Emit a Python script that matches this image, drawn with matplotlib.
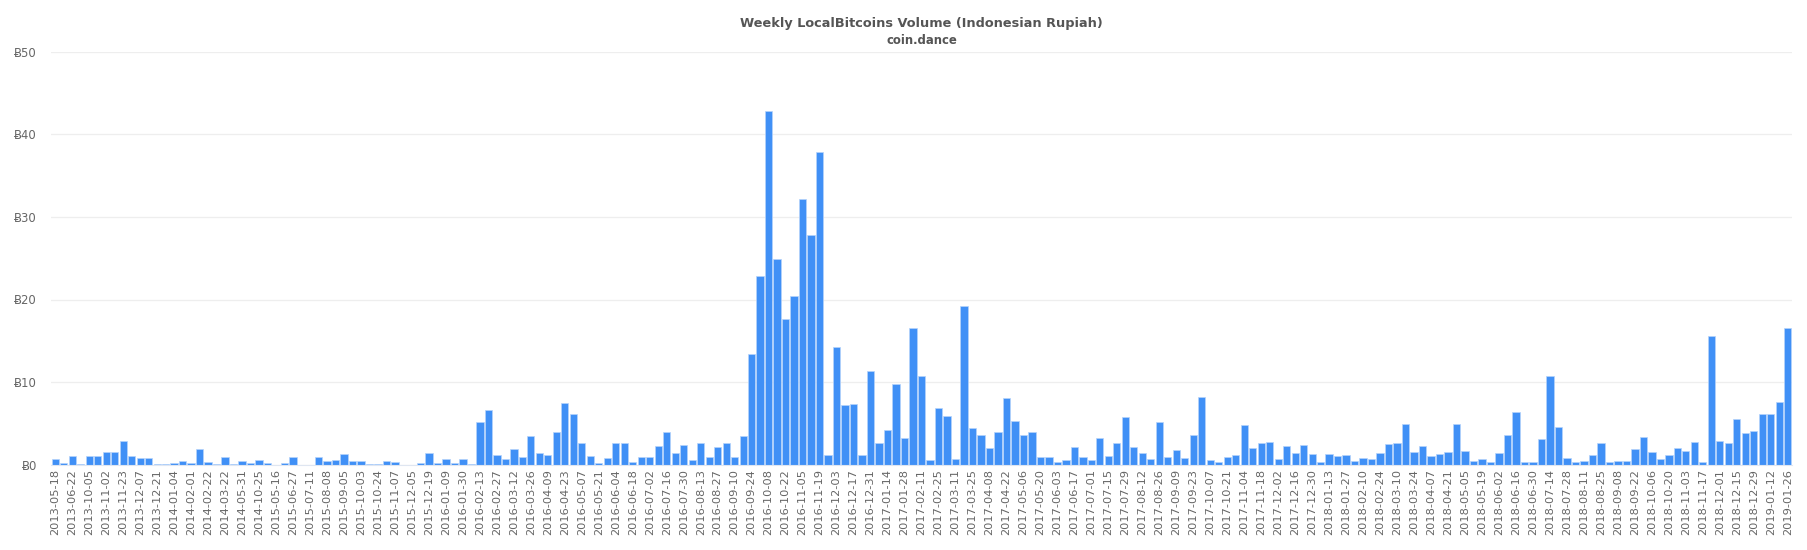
import matplotlib
matplotlib.use('Agg')
import matplotlib.pyplot as plt

# every second week has a label on the axis
labels = [
    '2013-05-18', '2013-06-22', '2013-10-05', '2013-11-02', '2013-11-23', '2013-12-07', '2013-12-21',
    '2014-01-04', '2014-02-01', '2014-02-22', '2014-03-22', '2014-05-31', '2014-10-25',
    '2015-05-16', '2015-06-27', '2015-07-11', '2015-08-08', '2015-09-05', '2015-10-03', '2015-10-24',
    '2015-11-07', '2015-12-05', '2015-12-19',
    '2016-01-09', '2016-01-30', '2016-02-13', '2016-02-27', '2016-03-12', '2016-03-26', '2016-04-09',
    '2016-04-23', '2016-05-07', '2016-05-21', '2016-06-04', '2016-06-18', '2016-07-02', '2016-07-16',
    '2016-07-30', '2016-08-13', '2016-08-27', '2016-09-10', '2016-09-24', '2016-10-08', '2016-10-22',
    '2016-11-05', '2016-11-19', '2016-12-03', '2016-12-17', '2016-12-31',
    '2017-01-14', '2017-01-28', '2017-02-11', '2017-02-25', '2017-03-11', '2017-03-25', '2017-04-08',
    '2017-04-22', '2017-05-06', '2017-05-20', '2017-06-03', '2017-06-17', '2017-07-01', '2017-07-15',
    '2017-07-29', '2017-08-12', '2017-08-26', '2017-09-09', '2017-09-23', '2017-10-07', '2017-10-21',
    '2017-11-04', '2017-11-18', '2017-12-02', '2017-12-16', '2017-12-30',
    '2018-01-13', '2018-01-27', '2018-02-10', '2018-02-24', '2018-03-10', '2018-03-24', '2018-04-07',
    '2018-04-21', '2018-05-05', '2018-05-19', '2018-06-02', '2018-06-16', '2018-06-30', '2018-07-14',
    '2018-07-28', '2018-08-11', '2018-08-25', '2018-09-08', '2018-09-22', '2018-10-06', '2018-10-20',
    '2018-11-03', '2018-11-17', '2018-12-01', '2018-12-15', '2018-12-29',
    '2019-01-12', '2019-01-26',
]

volume = [
    0.65, 0.15, 1.05, 0.05, 1.0, 1.0, 1.5, 1.5, 2.9, 1.0, 0.8, 0.8, 0.1, 0.1, 0.2, 0.4, 0.2, 1.9, 0.35, 0.03,
    0.95, 0.05, 0.4, 0.15, 0.5, 0.15, 0.0, 0.15, 0.85, 0.0, 0.0, 0.85, 0.45, 0.55, 1.25, 0.4, 0.45, 0.1, 0.02,
    0.4, 0.25, 0.0, 0.0, 0.15, 1.45, 0.15, 0.7,
    0.15, 0.7, 0.1, 5.1, 6.55, 1.1, 0.65, 1.9, 0.9, 3.4, 1.45, 1.1, 3.9, 7.5, 6.1, 2.6, 1.0, 0.15, 0.75, 2.55,
    2.55, 0.35, 0.85, 0.85, 2.25, 3.9, 1.35, 2.4, 0.5, 2.55, 0.9, 2.1, 2.65, 0.85, 3.4, 13.4, 22.9, 42.85,
    24.9, 17.6, 20.4, 32.2, 27.8, 37.9, 1.2, 14.2, 7.25, 7.3, 1.1, 11.35, 2.65, 4.2, 9.75,
    3.2, 16.6, 10.7, 0.5, 6.8, 5.9, 0.65, 19.25, 4.4, 3.55, 1.95, 3.9, 8.1, 5.3, 3.55, 3.9, 0.9, 0.9, 0.35,
    0.55, 2.1, 0.85, 0.5, 3.25, 1.0, 2.55, 5.7, 2.15, 1.35, 0.7, 5.1, 0.9, 1.75, 0.8, 3.55, 8.2, 0.5, 0.3,
    0.9, 1.2, 4.8, 1.95, 2.55, 2.7, 0.65, 2.3, 1.35, 2.35, 1.25, 0.35, 1.25, 1.0, 1.1,
    0.4, 0.75, 0.65, 1.35, 2.5, 2.55, 4.9, 1.55, 2.3, 1.0, 1.25, 1.55, 4.9, 1.65, 0.4, 0.7, 0.3, 1.35, 3.6,
    6.35, 0.25, 0.35, 3.05, 10.7, 4.6, 0.75, 0.3, 0.4, 1.15, 2.55, 0.3, 0.4, 0.4, 1.85, 3.3, 1.5, 0.65, 1.2,
    2.05, 1.65, 2.75, 0.3, 15.6, 2.8, 2.55, 5.55, 3.8, 4.1, 6.15, 6.15, 7.55, 16.6,
]

W, H = 1807, 550
text_color = '#666666'

fig = plt.figure(figsize=(W / 100, H / 100), dpi=100)
ax = fig.add_axes([51 / W, (H - 464.5) / H, (1792 - 51) / W, (464.5 - 52) / H])

x = list(range(len(volume)))
ax.bar(x, volume, width=0.86, color='#4090f6', edgecolor='#b5d3fb', linewidth=0.5, zorder=3)

ax.set_xlim(-0.5, len(volume) - 0.5)
ax.set_ylim(0, 50)
ax.set_yticks([0, 10, 20, 30, 40, 50])
ax.set_yticklabels(['Ƀ%d' % v for v in [0, 10, 20, 30, 40, 50]])
ax.set_xticks(x[::2])
ax.set_xticklabels(labels, rotation=90)

ax.tick_params(axis='y', length=0, pad=10, labelsize=8.4, labelcolor=text_color)
ax.tick_params(axis='x', length=0, pad=3.5, labelsize=8.2, labelcolor=text_color)
ax.yaxis.grid(True, color='#eeeeee', linewidth=0.9)
ax.set_axisbelow(True)
for s in ['top', 'right', 'left']:
    ax.spines[s].set_visible(False)
ax.spines['bottom'].set_color('#dfe6f1')
ax.spines['bottom'].set_zorder(4)

fig.text(921.5 / W, 1 - 23.5 / H, 'Weekly LocalBitcoins Volume (Indonesian Rupiah)',
         ha='center', va='center', fontsize=9.3, fontweight='bold', color='#555555')
fig.text(921.5 / W, 1 - 40 / H, 'coin.dance',
         ha='center', va='center', fontsize=8.4, fontweight='bold', color='#555555')

plt.savefig('out.png', dpi=100)
